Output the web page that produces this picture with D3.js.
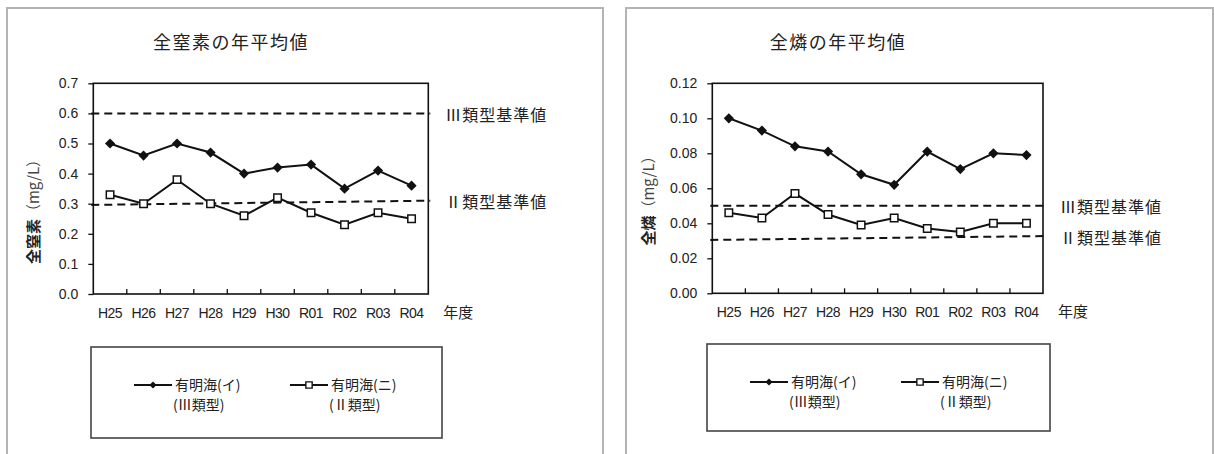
<!DOCTYPE html>
<html lang="ja">
<head>
<meta charset="utf-8">
<script src="https://cdn.jsdelivr.net/npm/d3@7"></script>
<style>
  html, body { margin: 0; padding: 0; background: #fff; }
  svg { display: block; }
  text { font-family: "Liberation Sans", Arial, sans-serif; fill: #222; }
  .jp { font-family: "Noto Sans CJK JP", "Noto Sans", sans-serif; }
</style>
</head>
<body>
<div id="chart"></div>
<script>
// 年度
const years = ["H25", "H26", "H27", "H28", "H29", "H30", "R01", "R02", "R03", "R04"];

// 全窒素 (mg/L)
const tnAriakeI  = [0.50, 0.46, 0.50, 0.47, 0.40, 0.42, 0.43, 0.35, 0.41, 0.36];
const tnAriakeNi = [0.33, 0.30, 0.38, 0.30, 0.26, 0.32, 0.27, 0.23, 0.27, 0.25];
const tnTicks = [0, 0.1, 0.2, 0.3, 0.4, 0.5, 0.6, 0.7];
// 基準値ライン（左端値, 右端値）
const tnStdIII = [0.6, 0.6];
const tnStdII  = [0.296, 0.31];

// 全燐 (mg/L)
const tpAriakeI  = [0.100, 0.093, 0.084, 0.081, 0.068, 0.062, 0.081, 0.071, 0.080, 0.079];
const tpAriakeNi = [0.046, 0.043, 0.057, 0.045, 0.039, 0.043, 0.037, 0.035, 0.040, 0.040];
const tpTicks = [0, 0.02, 0.04, 0.06, 0.08, 0.10, 0.12];
const tpStdIII = [0.050, 0.050];
const tpStdII  = [0.0305, 0.0327];

const stdLabels = ["Ⅲ類型基準値", "Ⅱ類型基準値"];
const seriesNames = ["有明海(イ)", "有明海(ニ)"];
const seriesTypes = ["(Ⅲ類型)", "(Ⅱ類型)"];

const svg = d3.select("#chart").append("svg")
  .attr("width", 1214).attr("height", 454);

function drawPanel(p) {
  const g = svg.append("g");

  // 外枠
  g.append("rect")
    .attr("x", p.frame[0]).attr("y", p.frame[1])
    .attr("width", p.frame[2]).attr("height", 520)
    .attr("fill", "none").attr("stroke", "#b4b4b4").attr("stroke-width", 2);

  // タイトル
  g.append("text").attr("class", "jp")
    .attr("x", p.titleX).attr("y", 49)
    .attr("text-anchor", "middle")
    .attr("font-size", 18).attr("letter-spacing", "1.5px")
    .attr("fill", "#111")
    .text(p.title);

  const x = d3.scaleBand().domain(years).range([p.left, p.right]);
  const y = d3.scaleLinear().domain(p.yDomain).range([p.bottom, p.top]);

  // 基準値ライン（破線）
  [p.stdIII, p.stdII].forEach((s, i) => {
    g.append("line")
      .attr("x1", p.left - 2).attr("x2", p.right + 2)
      .attr("y1", y(s[0])).attr("y2", y(s[1]))
      .attr("stroke", "#111").attr("stroke-width", 2)
      .attr("stroke-dasharray", "8,5");
    g.append("text").attr("class", "jp")
      .attr("x", p.right + 119).attr("y", y(s[1]) + 2)
      .attr("dy", "0.35em").attr("text-anchor", "end")
      .attr("font-size", 16).attr("letter-spacing", "1px")
      .attr("fill", "#333")
      .text(stdLabels[i]);
  });

  // プロット枠
  g.append("rect")
    .attr("x", p.left).attr("y", p.top)
    .attr("width", p.right - p.left).attr("height", p.bottom - p.top)
    .attr("fill", "none").attr("stroke", "#111").attr("stroke-width", 1.6);

  // Y軸
  const yAxis = g.append("g")
    .attr("transform", `translate(${p.left},0)`)
    .call(d3.axisLeft(y).tickValues(p.yTicks).tickFormat(d3.format(p.fmt))
      .tickSize(5).tickPadding(10));
  yAxis.select(".domain").remove();
  yAxis.selectAll("line").attr("stroke", "#111").attr("stroke-width", 1.3);
  yAxis.selectAll("text").attr("font-size", 14).attr("fill", "#333")
    .attr("font-family", "Liberation Sans, Arial, sans-serif");

  // X軸（内向き目盛を区切り位置に）
  const bounds = years.slice(1).map(d => x(d));
  g.selectAll(".xtick").data(bounds).join("line")
    .attr("x1", d => d).attr("x2", d => d)
    .attr("y1", p.bottom).attr("y2", p.bottom - 5)
    .attr("stroke", "#111").attr("stroke-width", 1.3);
  g.selectAll(".xlab").data(years).join("text")
    .attr("x", d => x(d) + x.bandwidth() / 2)
    .attr("y", p.bottom + 24)
    .attr("text-anchor", "middle")
    .attr("font-size", 14).attr("fill", "#333")
    .attr("letter-spacing", "-0.5px")
    .text(d => d);
  g.append("text").attr("class", "jp")
    .attr("x", p.right + 15).attr("y", p.bottom + 24)
    .attr("font-size", 15).attr("fill", "#333")
    .text("年度");

  // Y軸タイトル
  const yt = g.append("text").attr("class", "jp")
    .attr("transform", `translate(${p.yTitleX},${p.yTitleY}) rotate(-90)`)
    .attr("text-anchor", "middle").attr("dy", "0.35em")
    .attr("font-size", 15).attr("fill", "#222");
  yt.append("tspan").attr("font-weight", "bold").text(p.yName);
  yt.append("tspan").attr("fill", "#444").text("（mg/L）");

  const cx = (d, i) => x(years[i]) + x.bandwidth() / 2;
  const line = d3.line().x(cx).y(d => y(d));

  const diamond = d3.symbol(d3.symbolSquare, 52);
  const square = d3.symbol(d3.symbolSquare, 56);

  // 有明海(イ)
  g.append("path").datum(p.seriesI)
    .attr("d", line).attr("fill", "none")
    .attr("stroke", "#111").attr("stroke-width", 2);
  g.selectAll(".mI").data(p.seriesI).join("path")
    .attr("d", diamond)
    .attr("transform", (d, i) => `translate(${cx(d, i)},${y(d)}) rotate(45)`)
    .attr("fill", "#111");

  // 有明海(ニ)
  g.append("path").datum(p.seriesNi)
    .attr("d", line).attr("fill", "none")
    .attr("stroke", "#111").attr("stroke-width", 2);
  g.selectAll(".mNi").data(p.seriesNi).join("path")
    .attr("d", square)
    .attr("transform", (d, i) => `translate(${cx(d, i)},${y(d)})`)
    .attr("fill", "#fff").attr("stroke", "#111").attr("stroke-width", 1.5);

  // 凡例
  const lg = g.append("g").attr("transform", `translate(${p.legend[0]},${p.legend[1]})`);
  lg.append("rect")
    .attr("width", p.legend[2]).attr("height", p.legend[3])
    .attr("fill", "#fff").attr("stroke", "#444").attr("stroke-width", 1.6);
  const entries = [
    { x0: 43, sym: d3.symbol(d3.symbolSquare, 26), rot: 45, fill: "#111" },
    { x0: p.legendGap, sym: d3.symbol(d3.symbolSquare, 40), rot: 0, fill: "#fff" }
  ];
  entries.forEach((e, i) => {
    const ly = 38;
    lg.append("line")
      .attr("x1", e.x0).attr("x2", e.x0 + 38)
      .attr("y1", ly).attr("y2", ly)
      .attr("stroke", "#111").attr("stroke-width", 2);
    lg.append("path").attr("d", e.sym)
      .attr("transform", `translate(${e.x0 + 19},${ly}) rotate(${e.rot})`)
      .attr("fill", e.fill).attr("stroke", "#111").attr("stroke-width", i ? 1.4 : 0);
    lg.append("text").attr("class", "jp")
      .attr("x", e.x0 + 41).attr("y", ly).attr("dy", "0.35em")
      .attr("font-size", 14).attr("fill", "#333")
      .text(seriesNames[i]);
    lg.append("text").attr("class", "jp")
      .attr("x", e.x0 + 39).attr("y", ly + 20).attr("dy", "0.35em")
      .attr("font-size", 14).attr("fill", "#333")
      .text(seriesTypes[i]);
  });
}

drawPanel({
  frame: [7, 8, 596],
  title: "全窒素の年平均値", titleX: 231,
  left: 93.3, right: 428.3, top: 83.3, bottom: 294,
  yDomain: [0, 0.7], yTicks: tnTicks, fmt: ".1f",
  yName: "全窒素", yTitleX: 34, yTitleY: 208,
  stdIII: tnStdIII, stdII: tnStdII,
  seriesI: tnAriakeI, seriesNi: tnAriakeNi,
  legend: [91, 347, 351, 91], legendGap: 199
});

drawPanel({
  frame: [626, 8, 587],
  title: "全燐の年平均値", titleX: 838,
  left: 712.3, right: 1043, top: 83.3, bottom: 293.3,
  yDomain: [0, 0.12], yTicks: tpTicks, fmt: ".2f",
  yName: "全燐", yTitleX: 649, yTitleY: 197,
  stdIII: tpStdIII, stdII: tpStdII,
  seriesI: tpAriakeI, seriesNi: tpAriakeNi,
  legend: [707, 344, 343, 87], legendGap: 194
});
</script>
</body>
</html>
